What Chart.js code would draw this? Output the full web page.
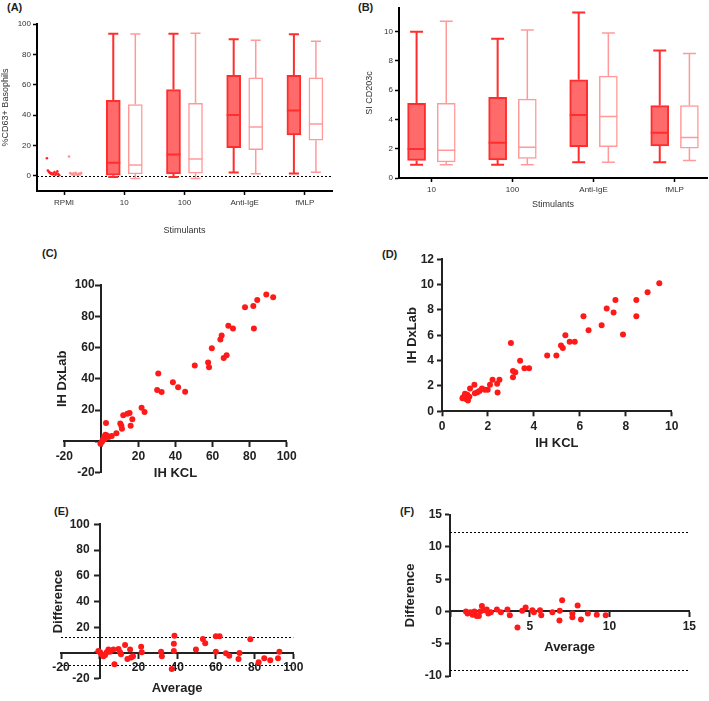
<!DOCTYPE html>
<html>
<head>
<meta charset="utf-8">
<script src="https://cdn.jsdelivr.net/npm/chart.js@4.4.1/dist/chart.umd.min.js"></script>
<style>
body { margin: 0; width: 709px; height: 701px; overflow: hidden; background: #fff; position: relative; font-family: "Liberation Sans", Arial, sans-serif; }
canvas { position: absolute; }
.lab { position: absolute; font-weight: bold; font-size: 11px; color: #222; }
</style>
</head>
<body>
<div class="lab" style="left:7px;top:1px">(A)</div>
<div class="lab" style="left:358px;top:1px">(B)</div>
<div class="lab" style="left:42px;top:247px">(C)</div>
<div class="lab" style="left:382px;top:248px">(D)</div>
<div class="lab" style="left:54px;top:505px">(E)</div>
<div class="lab" style="left:400px;top:505px">(F)</div>

<canvas id="chartA" style="left:0;top:0" width="345" height="250"></canvas>
<canvas id="chartB" style="left:355px;top:0" width="354" height="220"></canvas>
<canvas id="chartC" style="left:0;top:240px" width="300" height="245"></canvas>
<canvas id="chartD" style="left:355px;top:240px" width="354" height="215"></canvas>
<canvas id="chartE" style="left:0;top:480px" width="310" height="221"></canvas>
<canvas id="chartF" style="left:355px;top:480px" width="354" height="221"></canvas>

<script>
// Panel A: %CD63+ basophils, [min, q1, median, q3, max]
var stimuliA = ['RPMI', '10', '100', 'Anti-IgE', 'fMLP'];
var cd63Kcl = [null, [-0.7, 0.4, 8.6, 49.8, 93.6], [-0.7, 1.3, 14, 56.8, 93.6], [2.2, 18.6, 40.1, 66.2, 89.9], [1.5, 27, 43, 66.2, 93.2]];
var cd63Dx = [null, [-1.8, 1.3, 7.2, 46.9, 93.4], [-1.8, 1.8, 11, 47.8, 93.9], [1.3, 17.3, 32.2, 64.5, 89.3], [2.4, 23.5, 34.2, 64.5, 88.6]];
var rpmiKcl = [11.6, 3.5, 2.6, 2.1, 1.4, 1.9, 0.9, 1.2, 2.4, 0.6, 1.6, 2.9, 1.1, 0.4];
var rpmiDx = [12.7, 1.9, 1.3, 0.8, 1.6, 0.5, 2.0, 1.1, 0.7, 1.5, 0.9, 1.8];

// Panel B: SI CD203c
var stimuliB = ['10', '100', 'Anti-IgE', 'fMLP'];
var cd203Kcl = [[0.91, 1.2, 1.98, 5.1, 9.98], [0.9, 1.23, 2.4, 5.5, 9.5], [1.07, 2.14, 4.3, 6.7, 11.3], [1.07, 2.19, 3.08, 4.94, 8.7]];
var cd203Dx = [[0.9, 1.1, 1.9, 5.1, 10.7], [0.9, 1.34, 2.1, 5.38, 10.1], [1.07, 2.14, 4.2, 6.95, 9.9], [1.2, 2.03, 2.76, 4.94, 8.5]];

// Panel C: IH KCL vs IH DxLab (%CD63+)
var cKcl = [89, 92.7, 84.1, 82, 77.5, 82.3, 68.5, 71, 64.9, 64.2, 59.6, 66, 67.6, 57.6, 58.1, 50.4, 30.7, 30.1, 32.5, 38.6, 41.4, 45.2, 21.7, 23.3, 11.8, 14, 15.2, 16.7, 15.8, 10.2, 10.8, 11.1, 8.1, 2.5, 5.6, 3.9, 2.2, 1.4, 0.9, 0.2, -0.5, 0.7, 1.8, 3];
var cDx = [94, 92.1, 90.4, 86.5, 85.7, 72.2, 73.9, 72.2, 67.7, 65.2, 59.6, 53.4, 55.1, 50.4, 47.4, 48.5, 43.4, 32.9, 31.6, 37.8, 34.6, 31.8, 21.6, 18.8, 16.7, 17.7, 18.2, 14.1, 10, 11.5, 10, 8.1, 5.3, 11.8, 3.4, 2.8, 4.3, 2.8, 1.3, -0.4, -1.5, 0.6, 1.7, 3.8];

// Panel D: IH KCL vs IH DxLab (SI CD203c)
var dKcl = [9.46, 8.95, 8.46, 7.55, 7.17, 7.47, 8.46, 6.16, 6.95, 6.38, 7.88, 5.37, 5.56, 5.78, 5.18, 5.26, 4.58, 4.98, 3.0, 3.4, 3.59, 3.79, 3.09, 3.19, 3.09, 2.5, 2.2, 2.4, 2.09, 1.99, 2.42, 1.74, 1.86, 1.63, 1.41, 1.22, 1.43, 1.54, 1.1, 1.0, 0.92, 1.04, 1.13, 0.89, 1.19];
var dDx = [10.1, 9.4, 8.78, 8.78, 8.12, 7.8, 7.5, 7.5, 6.8, 6.4, 6.07, 6.0, 5.5, 5.5, 5.2, 5.0, 4.4, 4.4, 5.4, 4.0, 3.4, 3.4, 3.18, 3.08, 2.68, 2.5, 2.5, 2.18, 2.1, 1.7, 1.49, 1.8, 1.7, 1.6, 2.1, 1.8, 1.43, 1.5, 1.3, 1.38, 1.11, 0.98, 0.85, 1.03, 1.14];

// Panel E: Bland-Altman, %CD63+
var eAvg = [-0.7, 0.2, 1, 1.9, 2.8, 3.6, 4.5, 5.3, 7.1, 7.6, 9.7, 10.5, 11, 13.1, 14.3, 15.7, 16.2, 17.2, 21.4, 21.7, 31.7, 32.1, 37.2, 38.6, 38.3, 38.3, 49.7, 53.3, 54.5, 60, 61.9, 60, 65.2, 66.9, 72.2, 71.7, 77.8, 82.1, 85, 88.1, 92.8, 92.1];
var eDiff = [1.5, 0.5, -1, -2.6, -1.5, 0.5, 2.6, 1, 2.6, -8.8, 3.1, 0.5, -1, 6.2, -4.6, 2.6, -3.6, -2.6, 4.9, 0.5, 1, -2.6, -12.4, 13.4, 7.2, 1.5, 2.6, 10.8, 7.5, 12.9, 12.9, 1, -0.3, -2.1, 0, -4.6, 10.6, -7.2, -4.1, -5.7, 1, -4.1];
var eLimits = [12.4, -9.1];

// Panel F: Bland-Altman, SI CD203c
var fAvg = [1.0, 1.1, 1.28, 1.42, 1.53, 1.67, 1.81, 1.9, 2.0, 2.15, 2.3, 2.4, 2.56, 2.94, 3.19, 3.6, 3.75, 4.23, 4.53, 4.74, 5.16, 5.26, 5.64, 5.72, 6.42, 6.88, 6.86, 7.03, 7.67, 7.67, 8.0, 8.21, 8.64, 9.2, 9.76];
var fDiff = [0, -0.3, -0.1, -0.5, 0, -0.7, -0.7, 0, 0.84, 0.2, 0.3, -0.3, -0.1, 0.3, -0.1, 0.3, -0.6, -2.5, 0.1, 0.6, 0.2, -0.1, 0.2, -0.6, -0.1, 0.1, -1.4, 1.73, -0.3, -0.9, 0.94, -1.26, -0.3, -0.5, -0.6];
var fLimits = [12.3, -9.1];

var red = '#ff1a1a';
var ink = '#222';

// Whiskers, caps and median lines for the floating-bar boxes.
var boxWhiskers = {
	id: 'boxWhiskers',
	afterDatasetsDraw: function (chart) {
		var ctx = chart.ctx;
		var y = chart.scales.y;
		chart.data.datasets.forEach(function (ds, i) {
			if (ds.type === 'scatter') return;
			var meta = chart.getDatasetMeta(i);
			meta.data.forEach(function (bar, j) {
				var s = ds.data[j].s;
				var half = bar.width / 2;
				var cap = bar.width * 0.36;
				ctx.save();
				ctx.strokeStyle = ds.borderColor;
				ctx.lineWidth = ds.borderWidth;
				ctx.beginPath();
				ctx.moveTo(bar.x, y.getPixelForValue(s[3]));
				ctx.lineTo(bar.x, y.getPixelForValue(s[4]));
				ctx.moveTo(bar.x - cap, y.getPixelForValue(s[4]));
				ctx.lineTo(bar.x + cap, y.getPixelForValue(s[4]));
				ctx.moveTo(bar.x, y.getPixelForValue(s[1]));
				ctx.lineTo(bar.x, y.getPixelForValue(s[0]));
				ctx.moveTo(bar.x - cap, y.getPixelForValue(s[0]));
				ctx.lineTo(bar.x + cap, y.getPixelForValue(s[0]));
				ctx.moveTo(bar.x - half, y.getPixelForValue(s[2]));
				ctx.lineTo(bar.x + half, y.getPixelForValue(s[2]));
				ctx.stroke();
				ctx.restore();
			});
		});
	}
};

// Dotted horizontal reference lines across the plot area.
var refLines = {
	id: 'refLines',
	beforeDatasetsDraw: function (chart, args, opts) {
		if (!opts.values) return;
		var ctx = chart.ctx;
		var area = chart.chartArea;
		ctx.save();
		ctx.strokeStyle = '#000';
		ctx.lineWidth = 1;
		ctx.setLineDash([2, 2]);
		opts.values.forEach(function (v) {
			var py = Math.round(chart.scales.y.getPixelForValue(v)) + 0.5;
			ctx.beginPath();
			ctx.moveTo(area.left, py);
			ctx.lineTo(area.right, py);
			ctx.stroke();
		});
		ctx.restore();
	}
};

// one box per category, shifted to the left or right of the category tick
function boxItems(stats, shift) {
	var items = [];
	stats.forEach(function (s, i) {
		if (s) items.push({ x: i + shift, y: [s[1], s[3]], s: s });
	});
	return items;
}

function spread(values, center) {
	return values.map(function (v, k) {
		return { x: center + ((k + 0.5) / values.length - 0.5) * 0.22, y: v };
	});
}

function pairs(xs, ys) {
	return xs.map(function (x, k) { return { x: x, y: ys[k] }; });
}

function hideZero(v) { return v === 0 ? '' : v; }

var thin = { family: 'Liberation Sans', size: 8 };
var bold = { family: 'Liberation Sans', size: 12, weight: 'bold' };
var boldTitle = { family: 'Liberation Sans', size: 13, weight: 'bold' };
var shift = 0.183;

// Box plot charts
function boxChart(id, labels, kcl, dx, opt) {
	var datasets = [
		{ label: 'IH KCL', data: boxItems(kcl, -shift), backgroundColor: '#ff6b6b', borderColor: '#ff2d2d', borderWidth: 2, borderSkipped: false },
		{ label: 'IH DxLab', data: boxItems(dx, shift), backgroundColor: '#ffffff', borderColor: '#ff9a9a', borderWidth: 1.5, borderSkipped: false }
	];
	if (opt.dotsKcl) {
		datasets.push({ type: 'scatter', data: spread(opt.dotsKcl, -shift), backgroundColor: '#ff2020', pointRadius: 1.3, borderWidth: 0 });
		datasets.push({ type: 'scatter', data: spread(opt.dotsDx, shift), backgroundColor: '#ff9090', pointRadius: 1.3, borderWidth: 0 });
	}
	return new Chart(document.getElementById(id), {
		type: 'bar',
		data: { datasets: datasets },
		options: {
			responsive: false,
			animation: false,
			layout: { padding: opt.padding },
			plugins: { legend: { display: false }, tooltip: { enabled: false }, refLines: { values: opt.refLines } },
			datasets: { bar: { grouped: false, barThickness: opt.boxWidth } },
			scales: {
				x: {
					type: 'linear', offset: false,
					min: -opt.edge, max: labels.length - 1 + opt.edge,
					grid: { drawOnChartArea: false, offset: false, tickLength: 4, tickColor: '#000', tickWidth: 1.5 },
					border: { color: '#000', width: 2 },
					ticks: { stepSize: 1, includeBounds: false, font: thin, color: '#333', padding: 3, callback: function (v) { return labels[v]; } },
					afterBuildTicks: function (s) { s.ticks = s.ticks.filter(function (t) { return Number.isInteger(t.value) && t.value >= 0 && t.value < labels.length; }); },
					title: { display: true, text: 'Stimulants', font: { family: 'Liberation Sans', size: 9 }, color: '#333', padding: { top: 0, bottom: opt.xTitlePad } },
					afterFit: function (s) { s.height = opt.xHeight; }
				},
				y: {
					min: opt.yMin, max: opt.yMax,
					grid: { drawOnChartArea: false, tickLength: 4, tickColor: '#000', tickWidth: 1.5 },
					border: { color: '#000', width: 2 },
					ticks: { stepSize: opt.yStep, font: thin, color: '#333', padding: 2 },
					afterBuildTicks: function (s) { s.ticks = s.ticks.filter(function (t) { return t.value >= 0 && t.value <= opt.yTop; }); },
					title: { display: true, text: opt.yTitle, font: { family: 'Liberation Sans', size: 9 }, color: '#333', padding: { top: opt.yTitlePad, bottom: 0 } },
					afterFit: function (s) { s.width = opt.yWidth; }
				}
			}
		},
		plugins: [boxWhiskers, refLines]
	});
}

boxChart('chartA', stimuliA, cd63Kcl, cd63Dx, {
	dotsKcl: rpmiKcl, dotsDx: rpmiDx, edge: 0.45, boxWidth: 14,
	padding: { top: 24, right: 13, left: 0, bottom: 0 },
	xHeight: 59, xTitlePad: 13.6, yWidth: 37, yTitlePad: 0.6,
	yMin: -10, yMax: 100, yStep: 20, yTop: 100, yTitle: '%CD63+ Basophils',
	refLines: [0]
});

boxChart('chartB', stimuliB, cd203Kcl, cd203Dx, {
	edge: 0.4, boxWidth: 18,
	padding: { top: 8, right: 2, left: 0, bottom: 0 },
	xHeight: 42, xTitlePad: 9.6, yWidth: 44, yTitlePad: 9.6,
	yMin: 0, yMax: 11.6, yStep: 2, yTop: 10, yTitle: 'SI CD203c'
});

// Scatter / Bland-Altman charts
function axisStyle() {
	return {
		grid: { drawOnChartArea: false, tickLength: 5, tickColor: ink, tickWidth: 2 },
		border: { color: ink, width: 2 }
	};
}

function scatterChart(id, points, opt) {
	var x = Object.assign(axisStyle(), {
		type: 'linear', min: opt.xMin, max: opt.xMax, position: opt.xPos,
		ticks: { stepSize: opt.xStep, font: bold, color: ink, padding: 3, callback: opt.xHideZero ? hideZero : undefined },
		title: { display: true, text: opt.xTitle, font: boldTitle, color: ink, padding: { top: 0, bottom: opt.xTitlePad } },
		afterFit: function (s) { s.height = opt.xHeight; }
	});
	var yTicks = { stepSize: opt.yStep, font: bold, color: ink, padding: 3 };
	if (opt.yGap) {
		// labels of an axis crossing the plot sit right on the line, so pad them with spaces
		yTicks.callback = function (v) { return v === 0 ? '' : v + opt.yGap; };
	}
	var y = Object.assign(axisStyle(), {
		type: 'linear', min: opt.yMin, max: opt.yMax, position: opt.yPos,
		ticks: yTicks,
		afterFit: function (s) { s.width = opt.yWidth; }
	});
	var scales = { x: x, y: y };
	var yTitle = { display: true, text: opt.yTitle, font: boldTitle, color: ink, padding: { top: opt.yTitlePad, bottom: 0 } };
	if (opt.yPos === 'left') {
		y.title = yTitle;
	} else {
		// axis that only carries the title on the left side
		scales.yt = {
			type: 'linear', position: 'left',
			ticks: { display: false }, grid: { display: false }, border: { display: false },
			title: yTitle,
			afterFit: function (s) { s.width = opt.titleWidth; }
		};
	}
	return new Chart(document.getElementById(id), {
		type: 'scatter',
		data: { datasets: [{ data: points, backgroundColor: red, pointRadius: 3, borderWidth: 0 }] },
		options: {
			responsive: false,
			animation: false,
			layout: { padding: opt.padding },
			plugins: { legend: { display: false }, tooltip: { enabled: false }, refLines: { values: opt.refLines } },
			scales: scales
		},
		plugins: [refLines]
	});
}

scatterChart('chartC', pairs(cKcl, cDx), {
	xMin: -20, xMax: 100, xStep: 20, xPos: { y: 0 }, xHideZero: true, xTitle: 'IH KCL', xHeight: 39.4, xTitlePad: 0,
	yMin: -20, yMax: 100, yStep: 20, yPos: { x: 0 }, yGap: '  ', yTitle: 'IH DxLab', yWidth: 0,
	titleWidth: 64.3, yTitlePad: 54.2,
	padding: { top: 45, right: 13.3, left: 0, bottom: 12.3 }
});

scatterChart('chartD', pairs(dKcl, dDx), {
	xMin: 0, xMax: 10, xStep: 2, xPos: 'bottom', xTitle: 'IH KCL', xHeight: 43.7, xTitlePad: 4.2,
	yMin: 0, yMax: 12, yStep: 2, yPos: 'left', yTitle: 'IH DxLab', yWidth: 87, yTitlePad: 49.2,
	padding: { top: 19.3, right: 37.3, left: 0, bottom: 0 }
});

scatterChart('chartE', pairs(eAvg, eDiff), {
	xMin: -20, xMax: 100, xStep: 20, xPos: { y: 0 }, xHideZero: true, xTitle: 'Average', xHeight: 43.1, xTitlePad: 0,
	yMin: -20, yMax: 100, yStep: 20, yPos: { x: 0 }, yGap: '   ', yTitle: 'Difference', yWidth: 0,
	titleWidth: 61, yTitlePad: 50.5,
	padding: { top: 44.3, right: 16.7, left: 0, bottom: 22.3 },
	refLines: eLimits
});

scatterChart('chartF', pairs(fAvg, fDiff), {
	xMin: 0, xMax: 15, xStep: 5, xPos: { y: 0 }, xHideZero: true, xTitle: 'Average', xHeight: 44.2, xTitlePad: 0,
	yMin: -10, yMax: 15, yStep: 5, yPos: 'left', yTitle: 'Difference', yWidth: 95, yTitlePad: 47.2,
	padding: { top: 34.7, right: 19.7, left: 0, bottom: 25 },
	refLines: fLimits
});
</script>
</body>
</html>
